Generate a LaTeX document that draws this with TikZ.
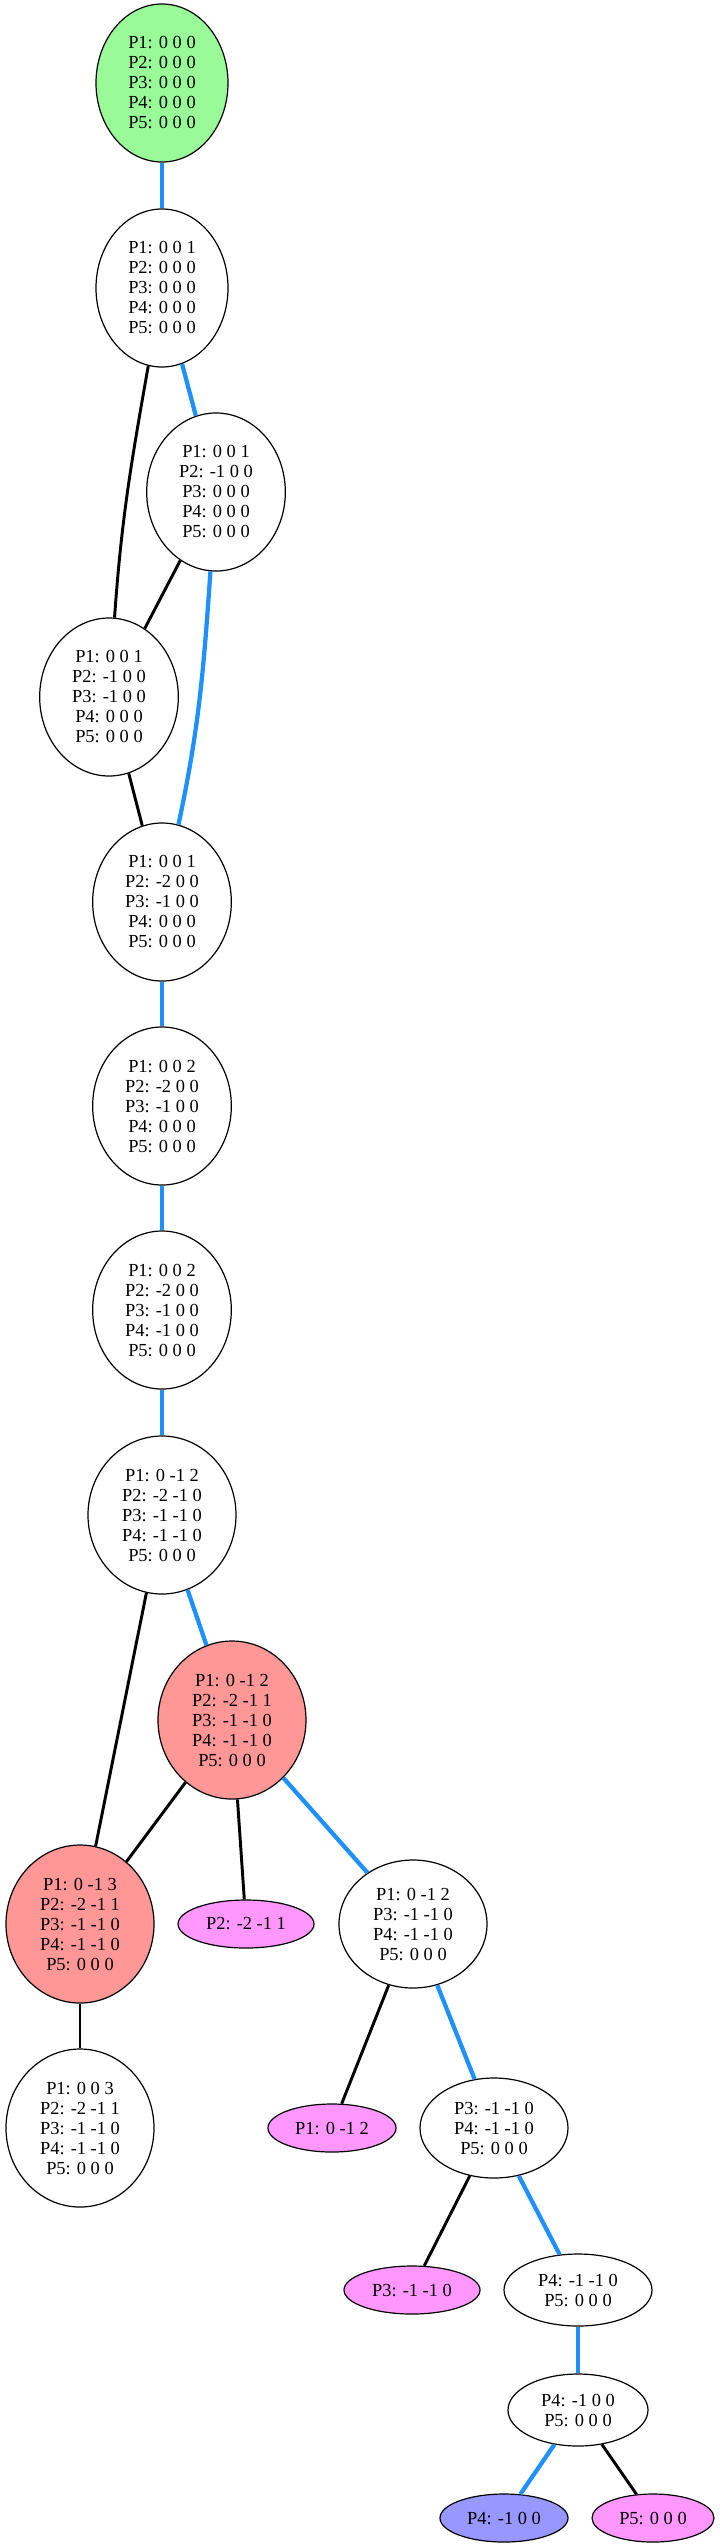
\documentclass[tikz,border=0pt]{standalone}
\usepackage{fontspec}
\setmainfont{Liberation Serif}
\usetikzlibrary{shapes.geometric}
\definecolor{startgreen}{HTML}{98FB98}
\definecolor{lossred}{HTML}{FF9797}
\definecolor{leafpink}{HTML}{FF97FF}
\definecolor{leafblue}{HTML}{9797FF}
\definecolor{pathblue}{HTML}{1E90FF}
\tikzset{
  state/.style={ellipse, draw, line width=0.9pt, inner sep=0pt, align=center,
    font=\fontsize{13.8}{15}\selectfont},
  five/.style={state, minimum width=#1, minimum height=118.5pt},
  leaf/.style={state, minimum width=#1, minimum height=36pt},
  path/.style={draw=pathblue, line width=3.2pt},
  side/.style={draw=black, line width=2.2pt}
}
\begin{document}
\begin{tikzpicture}[x={(0.75pt,0)},y={(0,-0.75pt)}]
\useasboundingbox (0,0) rectangle (719,2548);

\node[five=99pt, fill=startgreen] (s0) at (162,83) {P1: 0 0 0\\P2: 0 0 0\\P3: 0 0 0\\P4: 0 0 0\\P5: 0 0 0};
\node[five=99pt] (s1) at (162,288) {P1: 0 0 1\\P2: 0 0 0\\P3: 0 0 0\\P4: 0 0 0\\P5: 0 0 0};
\node[five=104pt] (s2) at (216,492) {P1: 0 0 1\\P2: -1 0 0\\P3: 0 0 0\\P4: 0 0 0\\P5: 0 0 0};
\node[five=104pt] (s3) at (109,697) {P1: 0 0 1\\P2: -1 0 0\\P3: -1 0 0\\P4: 0 0 0\\P5: 0 0 0};
\node[five=104pt] (s4) at (162,902) {P1: 0 0 1\\P2: -2 0 0\\P3: -1 0 0\\P4: 0 0 0\\P5: 0 0 0};
\node[five=104pt] (s5) at (162,1106) {P1: 0 0 2\\P2: -2 0 0\\P3: -1 0 0\\P4: 0 0 0\\P5: 0 0 0};
\node[five=104pt] (s6) at (162,1310) {P1: 0 0 2\\P2: -2 0 0\\P3: -1 0 0\\P4: -1 0 0\\P5: 0 0 0};
\node[five=111pt] (s7) at (162,1515) {P1: 0 -1 2\\P2: -2 -1 0\\P3: -1 -1 0\\P4: -1 -1 0\\P5: 0 0 0};
\node[five=111pt, fill=lossred] (s8) at (232,1720) {P1: 0 -1 2\\P2: -2 -1 1\\P3: -1 -1 0\\P4: -1 -1 0\\P5: 0 0 0};
\node[five=111pt, fill=lossred] (s9) at (80,1924) {P1: 0 -1 3\\P2: -2 -1 1\\P3: -1 -1 0\\P4: -1 -1 0\\P5: 0 0 0};
\node[leaf=102pt, fill=leafpink] (s10) at (246,1924) {P2: -2 -1 1};
\node[state, minimum width=111pt, minimum height=96pt] (s11) at (413,1924) {P1: 0 -1 2\\P3: -1 -1 0\\P4: -1 -1 0\\P5: 0 0 0};
\node[five=111pt] (s12) at (80,2128) {P1: 0 0 3\\P2: -2 -1 1\\P3: -1 -1 0\\P4: -1 -1 0\\P5: 0 0 0};
\node[leaf=96pt, fill=leafpink] (s13) at (332,2128) {P1: 0 -1 2};
\node[state, minimum width=111pt, minimum height=75pt] (s14) at (494,2128) {P3: -1 -1 0\\P4: -1 -1 0\\P5: 0 0 0};
\node[leaf=102pt, fill=leafpink] (s15) at (412,2290) {P3: -1 -1 0};
\node[state, minimum width=111pt, minimum height=54pt] (s16) at (578,2290) {P4: -1 -1 0\\P5: 0 0 0};
\node[state, minimum width=105pt, minimum height=54pt] (s17) at (578,2410) {P4: -1 0 0\\P5: 0 0 0};
\node[leaf=96pt, fill=leafblue] (s18) at (504,2518) {P4: -1 0 0};
\node[leaf=91.5pt, fill=leafpink] (s19) at (653,2518) {P5: 0 0 0};

% winning line
\draw[path] (s0) -- (s1);
\draw[path] (s1) -- (s2);
\draw[path] (s2) to[out=266, in=78] (s4);
\draw[path] (s4) -- (s5);
\draw[path] (s5) -- (s6);
\draw[path] (s6) -- (s7);
\draw[path] (s7) -- (s8);
\draw[path] (s8) -- (s11);
\draw[path] (s11) -- (s14);
\draw[path] (s14) -- (s16);
\draw[path] (s16) -- (s17);
\draw[path] (s17) -- (s18);
% other moves
\draw[side] (s1) to[out=260, in=86] (s3);
\draw[side] (s2) -- (s3);
\draw[side] (s3) -- (s4);
\draw[side] (s7) -- (s9);
\draw[side] (s8) -- (s9);
\draw[side] (s8) -- (s10);
\draw[side] (s9) -- (s12);
\draw[side] (s11) -- (s13);
\draw[side] (s14) -- (s15);
\draw[side] (s17) -- (s19);
\end{tikzpicture}
\end{document}
